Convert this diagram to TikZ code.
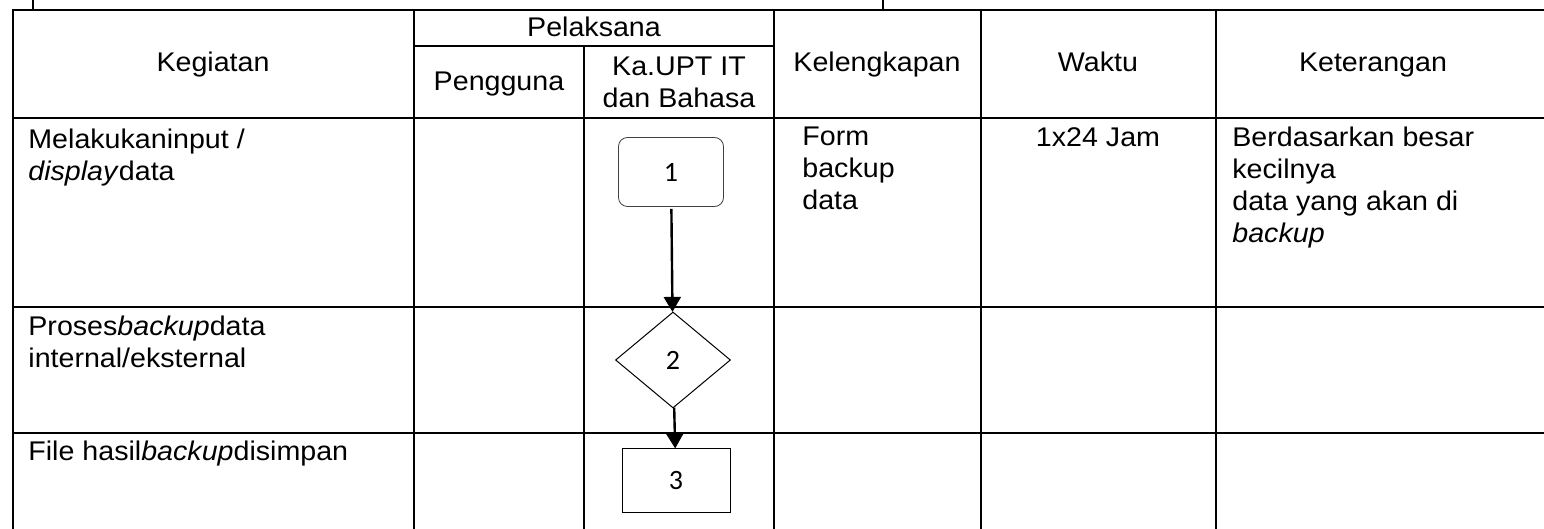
\documentclass[tikz,border=0pt]{standalone}
\usepackage{fontspec}
\setmainfont[FakeStretch=1.06]{Liberation Sans}
\newfontfamily\numfont{Carlito}
\usepackage{tikz}
\usetikzlibrary{shapes.geometric,arrows.meta}

\begin{document}
\begin{tikzpicture}[x=0.5pt, y=-0.5pt, font=\fontsize{13.5}{16}\selectfont,
    grid/.style={line width=1pt},
    headtext/.style={inner sep=0pt, align=center, anchor=base},
    celltext/.style={anchor=north west, inner sep=0pt, align=left},
    termbox/.style={draw=black!75, rounded corners=4.5pt, minimum width=52.5pt, minimum height=34.5pt, font=\numfont\fontsize{14}{16}\selectfont},
    checkbox/.style={draw, diamond, line width=0.5pt, inner sep=0pt, minimum width=57.5pt, minimum height=48pt, font=\numfont\fontsize{14}{16}\selectfont},
    procbox/.style={draw, line width=0.5pt, minimum width=54pt, minimum height=32pt, font=\numfont\fontsize{14}{16}\selectfont},
    flow/.style={-{Triangle[width=8.5pt,length=7.5pt]}, line width=1.2pt}]
  \useasboundingbox (0,0) rectangle (1544,529);

  % table lines
  \draw[grid] (33,0) -- (33,10);
  \draw[grid] (883,0) -- (883,10);
  \draw[grid] (13,529) -- (13,10) -- (1544,10);
  \draw[grid] (414,46) -- (774,46);
  \draw[grid] (13,118) -- (1544,118);
  \draw[grid] (13,307) -- (1544,307);
  \draw[grid] (13,433) -- (1544,433);
  \foreach \x in {414,774,981,1216}
    \draw[grid] (\x,10) -- (\x,529);
  \draw[grid] (584,46) -- (584,529);

  % header
  \node (hkeg) at (213,72) [headtext] {Kegiatan};
  \node (hpel) at (594,37) [headtext] {Pelaksana};
  \node (hpeng) at (499,91) [headtext] {Pengguna};
  \node (hka) at (679,57) [headtext, anchor=north] {Ka.UPT IT\\dan Bahasa};
  \node (hkel) at (877,72) [headtext] {Kelengkapan};
  \node (hwak) at (1098,72) [headtext] {Waktu};
  \node (hket) at (1373,72) [headtext] {Keterangan};

  % rows
  \node (keg1) at (28,129) [celltext] {Melakukaninput /\\\textit{display}data};
  \node (keg2) at (28,316) [celltext] {Proses\textit{backup}data\\internal/eksternal};
  \node (keg3) at (28,441) [celltext] {File hasil\textit{backup}disimpan};
  \node (kel1) at (802,127) [celltext] {Form\\backup\\data};
  \node (wak1) at (1098,127) [inner sep=0pt, anchor=north] {1x24 Jam};
  \node (ket1) at (1232,127) [celltext] {Berdasarkan besar\\kecilnya\\data yang akan di\\\textit{backup}};

  % flow
  \node (s1) at (671,172) [termbox] {1};
  \node (s2) at (673,360) [checkbox] {2};
  \node (s3) at (676,481) [procbox] {3};

  \draw[flow, shorten <=1pt] (s1) -- (s2);
  \draw[flow] (s2) -- (s3);
\end{tikzpicture}
\end{document}
